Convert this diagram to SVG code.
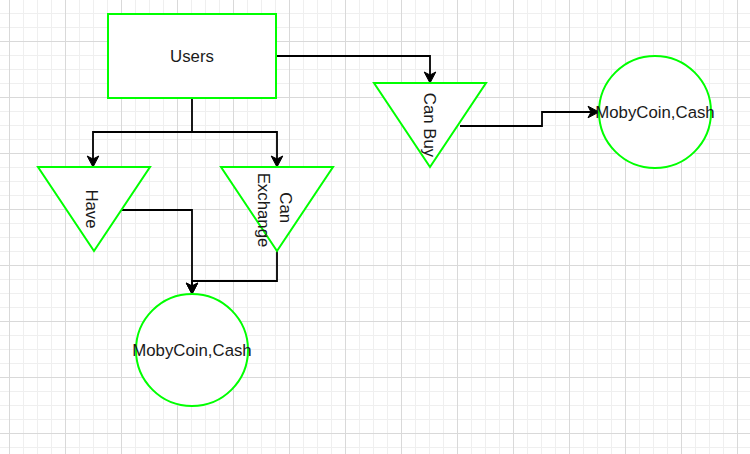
<svg xmlns="http://www.w3.org/2000/svg" width="750" height="454" viewBox="0 0 750 454">
  <defs>
    <pattern id="grid" patternUnits="userSpaceOnUse" x="9" y="41" width="56" height="56">
      <path d="M14.5 0V56M28.5 0V56M42.5 0V56M0 14.5H56M0 28.5H56M0 42.5H56" stroke="#efefef" stroke-width="1" fill="none"/>
      <path d="M0.5 0V56M0 0.5H56" stroke="#d9d9d9" stroke-width="1" fill="none"/>
    </pattern>
    <marker id="arrow" markerUnits="userSpaceOnUse" viewBox="-4 -7 13 14" refX="0" refY="0" markerWidth="13" markerHeight="14" orient="auto">
      <path d="M8,0 L-3,-5.8 L0,0 L-3,5.8 Z" fill="#000" stroke="#000" stroke-width="1" stroke-linejoin="miter"/>
    </marker>
    <style>
      .shape { fill: #ffffff; stroke: #00ff00; stroke-width: 2; }
      .lbl { font-family: "Liberation Sans", Arial, Helvetica, sans-serif; font-size: 16.8px; fill: #1a1a1a; text-anchor: middle; }
      .edge { fill: none; stroke: #000; stroke-width: 1.8; marker-end: url(#arrow); }
    </style>
  </defs>
  <rect x="0" y="0" width="750" height="454" fill="#ffffff"/>
  <rect x="0" y="0" width="750" height="454" fill="url(#grid)"/>

  <g id="connectors">
    <path class="edge" d="M276 56 H430 V75"/>
    <path class="edge" d="M460 126 H542 V112 H591"/>
    <path class="edge" d="M192 98 V132 H93 V159"/>
    <path class="edge" d="M192 132 H277 V159"/>
    <path class="edge" d="M122 210 H192 V286"/>
    <path class="edge" d="M277 251 V281 H192 V286"/>
  </g>

  <g id="users">
    <rect class="shape" x="108" y="14" width="168" height="84"/>
    <text class="lbl" x="192" y="61.8">Users</text>
  </g>

  <g id="have">
    <polygon class="shape" points="38,167 150,167 94,251"/>
    <text class="lbl" x="91.5" y="214.5" transform="rotate(90 91.5 209)">Have</text>
  </g>

  <g id="can-exchange">
    <polygon class="shape" points="221,167 333,167 277,251"/>
    <text class="lbl" transform="rotate(90 270 210)">
      <tspan x="270" y="200.5">Can</tspan>
      <tspan x="270" y="222">Exchange</tspan>
    </text>
  </g>

  <g id="can-buy">
    <polygon class="shape" points="374,83 486,83 430,167"/>
    <text class="lbl" x="430" y="131" transform="rotate(90 430 125)">Can Buy</text>
  </g>

  <g id="mobycoin-cash-right">
    <circle class="shape" cx="655" cy="112" r="56"/>
    <text class="lbl" x="655" y="118">MobyCoin,Cash</text>
  </g>

  <g id="mobycoin-cash-bottom">
    <circle class="shape" cx="192" cy="350" r="56"/>
    <text class="lbl" x="192" y="356">MobyCoin,Cash</text>
  </g>
</svg>
